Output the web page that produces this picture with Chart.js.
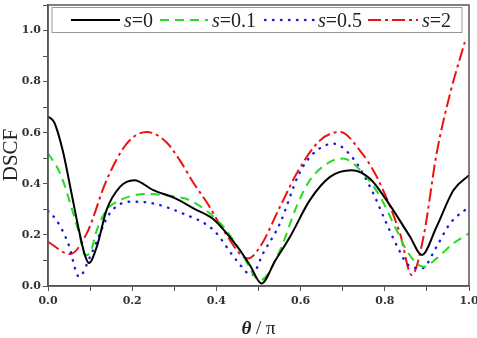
<!DOCTYPE html>
<html>
<head>
<meta charset="utf-8">
<script src="https://cdn.jsdelivr.net/npm/chart.js@4"></script>
<style>
  html, body { margin: 0; padding: 0; background: #fff; }
  #chart { display: block; }
</style>
</head>
<body>
<canvas id="chart" width="477" height="338"></canvas>
<script>
// values (theta/pi, DSCF)
const labels = ['s=0', 's=0.1', 's=0.5', 's=2'];

const thetaS0 = [0, 0.015, 0.035, 0.055, 0.072, 0.086, 0.097, 0.116, 0.139, 0.171, 0.205, 0.25, 0.3, 0.35, 0.39, 0.42, 0.456, 0.48, 0.507, 0.54, 0.575, 0.622, 0.67, 0.721, 0.765, 0.804, 0.86, 0.888, 0.923, 0.963, 1.0];
const dscfS0  = [0.664, 0.64, 0.53, 0.37, 0.23, 0.13, 0.09, 0.154, 0.297, 0.388, 0.414, 0.375, 0.345, 0.3, 0.265, 0.215, 0.14, 0.08, 0.01, 0.1, 0.193, 0.336, 0.427, 0.453, 0.42, 0.336, 0.193, 0.121, 0.232, 0.375, 0.434];

const thetaS01 = [0, 0.029, 0.06, 0.076, 0.088, 0.1, 0.116, 0.139, 0.171, 0.234, 0.3, 0.337, 0.417, 0.456, 0.504, 0.551, 0.59, 0.622, 0.67, 0.701, 0.749, 0.789, 0.828, 0.856, 0.892, 0.923, 0.963, 1.0];
const dscfS01  = [0.52, 0.44, 0.284, 0.193, 0.12, 0.13, 0.219, 0.297, 0.336, 0.36, 0.35, 0.336, 0.232, 0.14, 0.023, 0.14, 0.31, 0.414, 0.486, 0.499, 0.44, 0.349, 0.219, 0.128, 0.075, 0.108, 0.167, 0.206];

const thetaS05 = [0, 0.02, 0.048, 0.074, 0.1, 0.147, 0.199, 0.25, 0.32, 0.393, 0.448, 0.484, 0.511, 0.551, 0.595, 0.626, 0.678, 0.725, 0.769, 0.804, 0.828, 0.856, 0.888, 0.923, 0.955, 1.0];
const dscfS05  = [0.294, 0.258, 0.167, 0.036, 0.115, 0.285, 0.33, 0.323, 0.284, 0.219, 0.1, 0.043, 0.128, 0.245, 0.434, 0.512, 0.557, 0.499, 0.375, 0.245, 0.16, 0.082, 0.069, 0.154, 0.245, 0.31];

const thetaS2 = [0, 0.052, 0.092, 0.139, 0.187, 0.234, 0.28, 0.314, 0.345, 0.38, 0.416, 0.475, 0.504, 0.551, 0.595, 0.646, 0.694, 0.741, 0.781, 0.836, 0.864, 0.892, 0.923, 0.955, 0.99];
const dscfS2  = [0.173, 0.125, 0.206, 0.414, 0.557, 0.603, 0.565, 0.49, 0.405, 0.32, 0.22, 0.108, 0.154, 0.31, 0.453, 0.57, 0.603, 0.53, 0.427, 0.206, 0.043, 0.193, 0.518, 0.753, 0.955];

const xTicks = [0, 0.2, 0.4, 0.6, 0.8, 1.0];
const yTicks = [0, 0.2, 0.4, 0.6, 0.8, 1.0];

function pts(xs, ys) {
  return xs.map((x, i) => ({ x: x, y: ys[i] }));
}

const serif = '"Liberation Serif", "DejaVu Serif", serif';
const tickFont = '"DejaVu Serif", serif';

// frame, legend and axis titles
const extras = {
  id: 'extras',
  afterDraw(chart) {
    const ctx = chart.ctx;
    const a = chart.chartArea;
    ctx.save();
    ctx.strokeStyle = '#555';
    ctx.lineWidth = 1.5;
    ctx.strokeRect(a.left, a.top, a.right - a.left, a.bottom - a.top);

    // legend box
    ctx.fillStyle = '#fff';
    ctx.fillRect(52, 7.5, 410, 25);
    ctx.strokeStyle = '#999';
    ctx.lineWidth = 1;
    ctx.strokeRect(52, 7.5, 410, 25);
    const pos = [[71, 120, 124], [160, 208, 212], [265, 315, 318], [368, 418, 422]];
    chart.data.datasets.forEach((ds, i) => {
      const p = pos[i];
      ctx.beginPath();
      ctx.setLineDash(ds.borderDash || []);
      ctx.lineCap = ds.borderCapStyle || 'butt';
      ctx.strokeStyle = ds.borderColor;
      ctx.lineWidth = ds.borderWidth;
      ctx.moveTo(p[0], 20);
      ctx.lineTo(p[1], 20);
      ctx.stroke();
      ctx.setLineDash([]);
      ctx.fillStyle = '#222';
      ctx.textBaseline = 'alphabetic';
      ctx.textAlign = 'left';
      ctx.font = 'italic 20px ' + serif;
      ctx.fillText('s', p[2], 27);
      const w = ctx.measureText('s').width;
      ctx.font = '20px ' + serif;
      ctx.fillText(ds.label.slice(1), p[2] + w, 27);
    });

    // x axis title
    ctx.fillStyle = '#222';
    ctx.textAlign = 'left';
    const t1 = 'θ';
    ctx.font = 'italic bold 19px ' + serif;
    const w1 = ctx.measureText(t1).width;
    ctx.font = '19px ' + serif;
    const t2 = ' / π';
    const w2 = ctx.measureText(t2).width;
    const x0 = (a.left + a.right) / 2 - (w1 + w2) / 2;
    ctx.font = 'italic bold 19px ' + serif;
    ctx.fillText(t1, x0, 334);
    ctx.font = '19px ' + serif;
    ctx.fillText(t2, x0 + w1, 334);

    // y axis title
    ctx.translate(11, 155);
    ctx.rotate(-Math.PI / 2);
    ctx.textAlign = 'center';
    ctx.textBaseline = 'middle';
    ctx.font = '21px ' + serif;
    ctx.fillText('DSCF', 0, 0);
    ctx.restore();
  }
};

const ctx = document.getElementById('chart');
new Chart(ctx, {
  type: 'line',
  data: {
    datasets: [{
      label: labels[0],
      data: pts(thetaS0, dscfS0),
      borderColor: '#000000',
      borderWidth: 2,
    }, {
      label: labels[1],
      data: pts(thetaS01, dscfS01),
      borderColor: '#22dd22',
      borderWidth: 2,
      borderDash: [9, 6],
    }, {
      label: labels[2],
      data: pts(thetaS05, dscfS05),
      borderColor: '#1a1ae6',
      borderWidth: 2.4,
      borderDash: [0.5, 7.5],
      borderCapStyle: 'round',
    }, {
      label: labels[3],
      data: pts(thetaS2, dscfS2),
      borderColor: '#ee1111',
      borderWidth: 2,
      borderDash: [13, 4, 3, 4],
    }],
  },
  options: {
    responsive: false,
    animation: false,
    devicePixelRatio: 1,
    layout: { padding: { top: 5, right: 8, left: 0, bottom: 0 } },
    elements: {
      point: { radius: 0 },
      line: { cubicInterpolationMode: 'monotone', fill: false },
    },
    plugins: {
      legend: { display: false },
      tooltip: { enabled: false },
    },
    scales: {
      x: {
        type: 'linear',
        min: 0,
        max: 1,
        afterFit: (s) => {
          s.height = 52;
          s.paddingLeft = 0;
          s.paddingRight = 0;
        },
        grid: { drawOnChartArea: false, tickLength: 5, color: '#555', tickWidth: 1 },
        border: { color: '#555', width: 1.5 },
        ticks: {
          stepSize: 0.1,
          padding: 4,
          color: '#333',
          font: { family: tickFont, size: 11, weight: 'bold' },
          callback: (v) => {
            const hit = xTicks.find((t) => Math.abs(t - v) < 1e-6);
            return hit === undefined ? '' : hit.toFixed(1);
          },
        },
      },
      y: {
        min: 0,
        max: 1.1,
        afterFit: (s) => {
          s.width = 48;
          s.paddingTop = 0;
          s.paddingBottom = 0;
        },
        grid: { drawOnChartArea: false, tickLength: 5, color: '#555', tickWidth: 1 },
        border: { color: '#555', width: 1.5 },
        ticks: {
          stepSize: 0.1,
          padding: 2,
          color: '#333',
          font: { family: tickFont, size: 11, weight: 'bold' },
          callback: (v) => {
            const hit = yTicks.find((t) => Math.abs(t - v) < 1e-6);
            return hit === undefined ? '' : hit.toFixed(1);
          },
        },
      },
    },
  },
  plugins: [extras],
});
</script>
</body>
</html>
